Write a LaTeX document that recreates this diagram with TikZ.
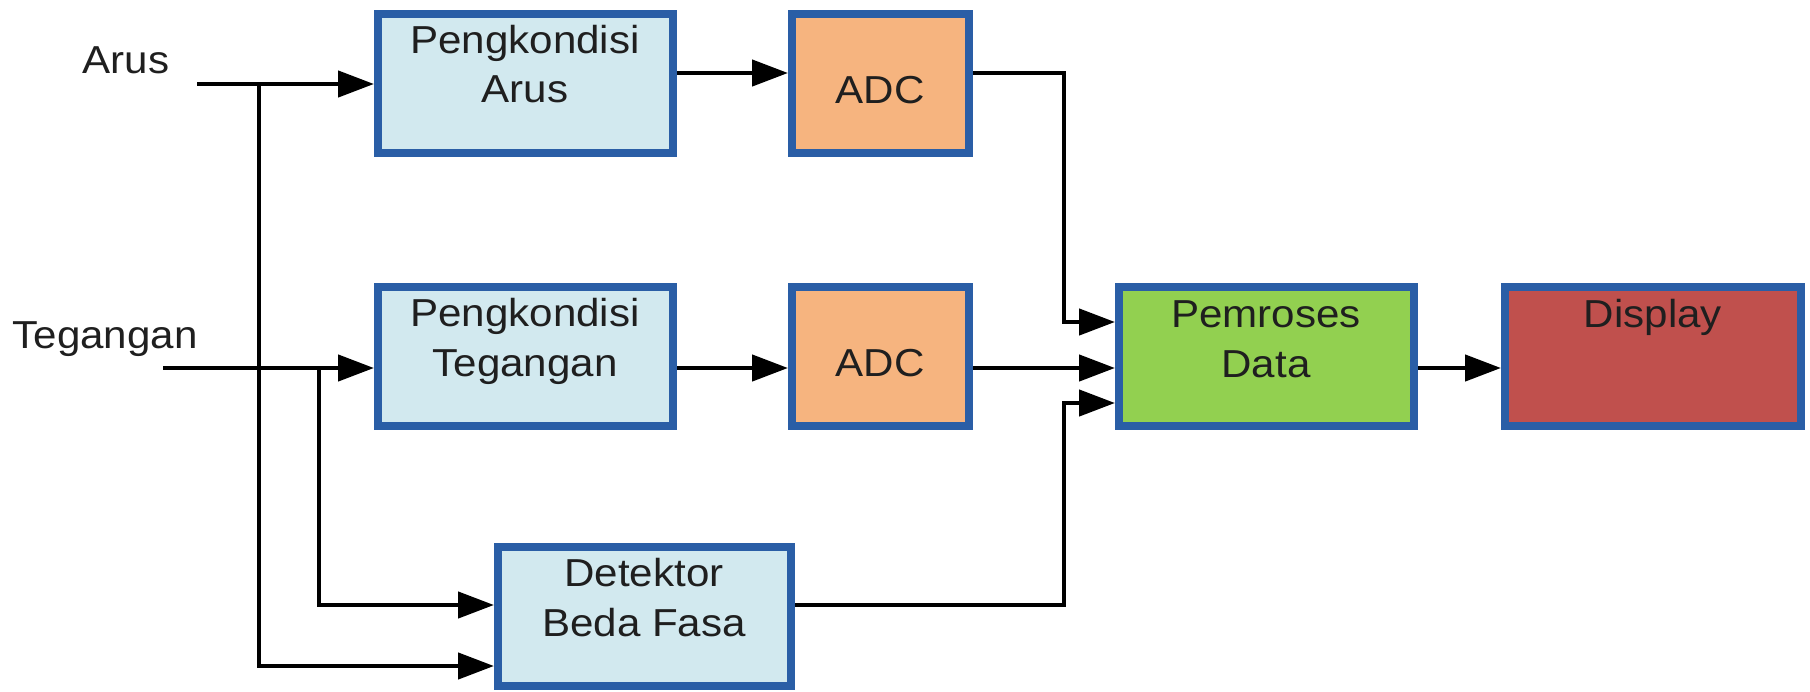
\documentclass[tikz,border=0pt]{standalone}
\usepackage{fontspec}
\setmainfont{Liberation Sans}[FakeStretch=1.08]
\usetikzlibrary{arrows.meta,calc}
\definecolor{bordblue}{RGB}{42,94,166}
\definecolor{condfill}{RGB}{210,233,239}
\definecolor{adcfill}{RGB}{246,180,127}
\definecolor{procfill}{RGB}{146,208,80}
\definecolor{dispfill}{RGB}{192,80,77}

\begin{document}
\begin{tikzpicture}[x=1pt,y=-1pt,
  blk/.style={draw=bordblue, line width=8pt, inner sep=0pt,
              minimum width=295pt, minimum height=139pt},
  cond/.style={blk, fill=condfill},
  adc/.style={blk, fill=adcfill, minimum width=177pt},
  txt/.style={font=\fontsize{39}{49}\selectfont, anchor=base,
              inner sep=0pt, text=black!88},
  wire/.style={line width=4.5pt, black},
  conn/.style={wire, -{Triangle[length=36pt,width=26pt]}}]

\useasboundingbox (0,0) rectangle (1810,691);

% blocks
\node[cond] (pa)   at (525.5,83.5) {};
\node[adc]  (adc1) at (880.5,83.5) {};
\node[cond] (pt)   at (525.5,356)  {};
\node[adc]  (adc2) at (880.5,356)  {};
\node[cond, minimum width=293pt] (det) at (644.5,616) {};
\node[blk, fill=procfill] (pd)   at (1266.5,356) {};
\node[blk, fill=dispfill, minimum width=296pt] (disp) at (1653,356) {};

% block texts
\node[txt] (pa1) at (525,53)  {Pengkondisi};
\node[txt] (pa2) at (525,102) {Arus};
\node[txt] (ad1) at (880,103) {ADC};
\node[txt] (pt1) at (525,326) {Pengkondisi};
\node[txt] (pt2) at (525,376) {Tegangan};
\node[txt] (ad2) at (880,376) {ADC};
\node[txt] (dt1) at (644,586) {Detektor};
\node[txt] (dt2) at (644,636) {Beda Fasa};
\node[txt] (pd1) at (1266,327) {Pemroses};
\node[txt] (pd2) at (1266,377) {Data};
\node[txt] (ds1) at (1653,327) {Display};

% input labels
\node[txt] (arus) at (126,73)  {Arus};
\node[txt] (teg)  at (105,348) {Tegangan};

% signal levels and branch points
\coordinate (arusin) at (197,84);
\coordinate (tegin)  at (163,368);
\coordinate (jA)     at (259,84);
\coordinate (jT)     at (319,368);
\coordinate (top)    at (0,73);
\coordinate (mid)    at (0,368);
\coordinate (detT)   at (0,605);
\coordinate (detA)   at (0,666);
\coordinate (busx)   at (1064,0);
\coordinate (pdT)    at (0,322);
\coordinate (pdB)    at (0,403);

% inputs
\draw[conn] (arusin) -- (arusin -| pa.west);
\draw[conn] (tegin) -- (tegin -| pt.west);
\draw[conn] (jA) |- (det.west |- detA);
\draw[conn] (jT) |- (det.west |- detT);

% current path
\draw[conn] (pa.east |- top) -- (adc1.west |- top);
\draw[conn] (adc1.east |- top) -| (busx |- pdT) -- (pd.west |- pdT);

% voltage path
\draw[conn] (pt.east |- mid) -- (adc2.west |- mid);
\draw[conn] (adc2.east |- mid) -- (pd.west |- mid);

% phase detector path
\draw[conn] (det.east |- detT) -| (busx |- pdB) -- (pd.west |- pdB);

% output
\draw[conn] (pd.east |- mid) -- (disp.west |- mid);
\end{tikzpicture}
\end{document}
